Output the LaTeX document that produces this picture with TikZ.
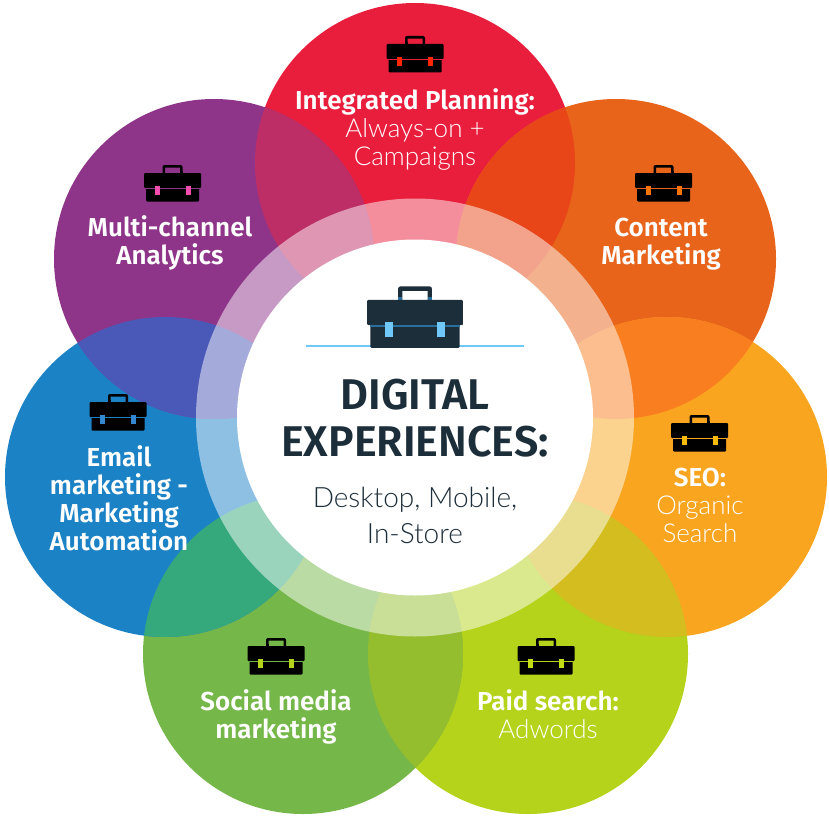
\documentclass[tikz,border=0pt]{standalone}
\usepackage{fontspec}
\setmainfont{Fira Sans}[BoldFont={Fira Sans SemiBold}]
\newfontfamily\lightface{Lato Light}
\usetikzlibrary{positioning}
\definecolor{inkdark}{HTML}{1C2E3A}
\definecolor{hubclasp}{HTML}{6FC8F8}
\definecolor{hubband}{HTML}{2A6E9E}
\definecolor{planred}{HTML}{E91E3C}
\definecolor{contentorange}{HTML}{E8641B}
\definecolor{seoamber}{HTML}{F9A51F}
\definecolor{paidlime}{HTML}{B5D31B}
\definecolor{socialgreen}{HTML}{76B749}
\definecolor{emailblue}{HTML}{1C82C6}
\definecolor{analyticspurple}{HTML}{8E3589}
\definecolor{mixredorange}{HTML}{E84518}
\definecolor{mixorangeamber}{HTML}{F97E20}
\definecolor{mixamberlime}{HTML}{D4BD1F}
\definecolor{mixlimegreen}{HTML}{94BE2E}
\definecolor{mixgreenblue}{HTML}{36A97C}
\definecolor{mixbluepurple}{HTML}{4A58B8}
\definecolor{mixpurplered}{HTML}{BD2E66}
\tikzset{
  petal/.style={circle,inner sep=0pt,minimum size=320pt},
  label/.style={align=center,text=white,font=\fontsize{26}{28}\selectfont\bfseries},
  pics/briefcase/.style n args={4}{code={
    \fill[#1,rounded corners=1pt] (-26.5,59) rectangle (26.5,72.5);
    \fill[#1,even odd rule,rounded corners=2pt] (-10,46) -- (-10,36) -- (10,36) -- (10,46) -- cycle
      [sharp corners] (-7.5,46) rectangle (7.5,38.6);
    \fill[#4] (-10,42.4) rectangle (-7.5,44);
    \fill[#4] (7.5,42.4) rectangle (10,44);
    \fill[#1,rounded corners=1pt] (-28.5,44) rectangle (28.5,59);
    \fill[#3] (-26.5,59) rectangle (26.5,60);
    \fill[#2] (-18,57) rectangle (-13,66);
    \fill[#2] (13,57) rectangle (18,66);
  }}
}
\begin{document}
\begin{tikzpicture}[x=1pt,y=-1pt]
  \useasboundingbox (0,0) rectangle (828,832);

  % Outer circles
  \foreach \name/\cx/\cy/\col in {red/415/163/planred,orange/616/259/contentorange,amber/667/477/seoamber,lime/528/654/paidlime,green/303/654/socialgreen,blue/165/477/emailblue,purple/214/259/analyticspurple}
    \node[petal,fill=\col] (\name) at (\cx,\cy) {};

  % Overlaps between neighbours
  \foreach \one/\two/\col in {red/orange/mixredorange,orange/amber/mixorangeamber,amber/lime/mixamberlime,lime/green/mixlimegreen,green/blue/mixgreenblue,blue/purple/mixbluepurple,purple/red/mixpurplered}{
    \begin{scope}
      \clip (\one.center) circle (160pt);
      \fill[\col] (\two.center) circle (160pt);
    \end{scope}
  }

  % Ring and hub
  \node[circle,inner sep=0pt,minimum size=438pt,fill=white,fill opacity=.5] (ring) at (415,417.5) {};
  \node[circle,inner sep=0pt,minimum size=356pt,fill=white] (hub) at (415,417.5) {};

  % Icons
  \pic at (415,0) {briefcase={black}{red!85!yellow}{planred}{black}};
  \pic at (663.5,129) {briefcase={black}{orange!90!red}{contentorange}{black}};
  \pic at (172.5,129) {briefcase={black}{magenta!70!white}{analyticspurple}{black}};
  \pic at (699.5,379) {briefcase={black}{yellow!50!orange}{seoamber}{black}};
  \pic at (118,358) {briefcase={black}{cyan!60!blue!85!white}{emailblue}{black}};
  \pic at (276,602) {briefcase={black}{paidlime}{socialgreen}{black}};
  \pic at (546,602) {briefcase={black}{paidlime!80!yellow}{paidlime}{black}};
  \draw[hubclasp,line width=1.2pt] (306,346) -- (524,346);
  \pic[scale=1.68] at (415,226) {briefcase={inkdark}{hubclasp}{hubband}{hubband}};

  % Labels
  \node[label] (redlabel) at (415,129) {Integrated Planning:\\{\lightface\mdseries Always-on +}\\{\lightface\mdseries Campaigns}};
  \node[label] (orangelabel) at (661,244) {Content\\Marketing};
  \node[label] (purplelabel) at (170,243) {Multi-channel\\Analytics};
  \node[label] (amberlabel) at (700,505) {SEO:\\{\lightface\mdseries Organic}\\{\lightface\mdseries Search}};
  \node[label] (limelabel) at (548,714) {Paid search:\\{\lightface\mdseries Adwords}};
  \node[label] (greenlabel) at (276,717) {Social media\\marketing};
  \node[label] (bluelabel) at (119,498) {Email\\marketing -\\Marketing\\Automation};
  \node[align=center,text=inkdark,font=\fontsize{43}{47}\selectfont\bfseries] (hubtitle) at (415,418) {DIGITAL\\EXPERIENCES:};
  \node[align=center,text=inkdark,below=23pt of hubtitle,font=\fontsize{28}{36}\selectfont\lightface] (hubsub) {Desktop, Mobile,\\In-Store};
\end{tikzpicture}
\end{document}
